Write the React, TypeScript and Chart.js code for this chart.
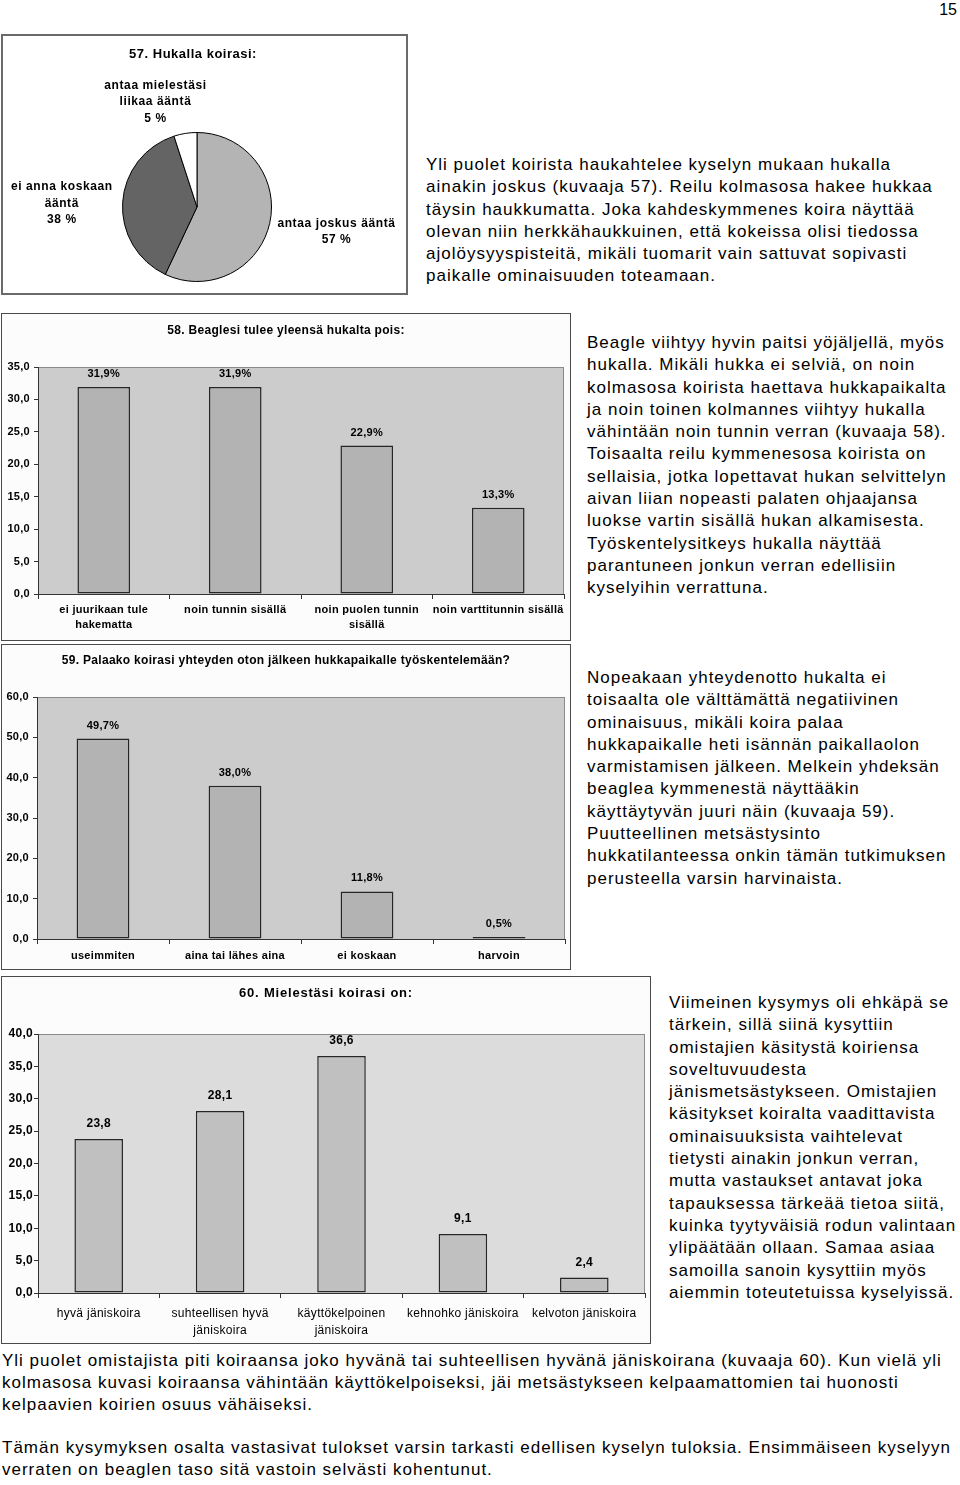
import React, { useEffect, useRef } from 'react';
import { Chart, registerables } from 'chart.js';
Chart.register(...registerables);

const FONT = "'Liberation Sans', Arial, Helvetica, sans-serif";

// ---- Chart 57 (pie) ----
const pieTitle = '57. Hukalla koirasi:';
const pieCategories = ['antaa joskus ääntä', 'ei anna koskaan ääntä', 'antaa mielestäsi liikaa ääntä'];
const pieLabelLines = [['antaa joskus ääntä', '57 %'], ['ei anna koskaan', 'ääntä', '38 %'], ['antaa mielestäsi', 'liikaa ääntä', '5 %']];
const pieValues = [57, 38, 5];
const pieColors = ['#b4b4b4', '#646464', '#ffffff'];

// ---- Chart 58 ----
const c58Title = '58. Beaglesi tulee yleensä hukalta pois:';
const c58Categories = [['ei juurikaan tule', 'hakematta'], 'noin tunnin sisällä', ['noin puolen tunnin', 'sisällä'], 'noin varttitunnin sisällä'];
const c58Values = [31.9, 31.9, 22.9, 13.3];
const c58Max = 35;
const c58Step = 5;

// ---- Chart 59 ----
const c59Title = '59. Palaako koirasi yhteyden oton jälkeen hukkapaikalle työskentelemään?';
const c59Categories = ['useimmiten', 'aina tai lähes aina', 'ei koskaan', 'harvoin'];
const c59Values = [49.7, 38.0, 11.8, 0.5];
const c59Max = 60;
const c59Step = 10;

// ---- Chart 60 ----
const c60Title = '60. Mielestäsi koirasi on:';
const c60Categories = ['hyvä jäniskoira', ['suhteellisen hyvä', 'jäniskoira'], ['käyttökelpoinen', 'jäniskoira'], 'kehnohko jäniskoira', 'kelvoton jäniskoira'];
const c60Values = [23.8, 28.1, 36.6, 9.1, 2.4];
const c60Max = 40;
const c60Step = 5;

// ---- Text ----
const text1 = [
  'Yli puolet koirista haukahtelee kyselyn mukaan hukalla',
  'ainakin joskus (kuvaaja 57). Reilu kolmasosa hakee hukkaa',
  'täysin haukkumatta. Joka kahdeskymmenes koira näyttää',
  'olevan niin herkkähaukkuinen, että kokeissa olisi tiedossa',
  'ajolöysyyspisteitä, mikäli tuomarit vain sattuvat sopivasti',
  'paikalle ominaisuuden toteamaan.',
];
const text2 = [
  'Beagle viihtyy hyvin paitsi yöjäljellä, myös',
  'hukalla. Mikäli hukka ei selviä, on noin',
  'kolmasosa koirista haettava hukkapaikalta',
  'ja noin toinen kolmannes viihtyy hukalla',
  'vähintään noin tunnin verran (kuvaaja 58).',
  'Toisaalta reilu kymmenesosa koirista on',
  'sellaisia, jotka lopettavat hukan selvittelyn',
  'aivan liian nopeasti palaten ohjaajansa',
  'luokse vartin sisällä hukan alkamisesta.',
  'Työskentelysitkeys hukalla näyttää',
  'parantuneen jonkun verran edellisiin',
  'kyselyihin verrattuna.',
];
const text3 = [
  'Nopeakaan yhteydenotto hukalta ei',
  'toisaalta ole välttämättä negatiivinen',
  'ominaisuus, mikäli koira palaa',
  'hukkapaikalle heti isännän paikallaolon',
  'varmistamisen jälkeen. Melkein yhdeksän',
  'beaglea kymmenestä näyttääkin',
  'käyttäytyvän juuri näin (kuvaaja 59).',
  'Puutteellinen metsästysinto',
  'hukkatilanteessa onkin tämän tutkimuksen',
  'perusteella varsin harvinaista.',
];
const text4 = [
  'Viimeinen kysymys oli ehkäpä se',
  'tärkein, sillä siinä kysyttiin',
  'omistajien käsitystä koiriensa',
  'soveltuvuudesta',
  'jänismetsästykseen. Omistajien',
  'käsitykset koiralta vaadittavista',
  'ominaisuuksista vaihtelevat',
  'tietysti ainakin jonkun verran,',
  'mutta vastaukset antavat joka',
  'tapauksessa tärkeää tietoa siitä,',
  'kuinka tyytyväisiä rodun valintaan',
  'ylipäätään ollaan. Samaa asiaa',
  'samoilla sanoin kysyttiin myös',
  'aiemmin toteutetuissa kyselyissä.',
];
const text5 = [
  'Yli puolet omistajista piti koiraansa joko hyvänä tai suhteellisen hyvänä jäniskoirana (kuvaaja 60). Kun vielä yli',
  'kolmasosa kuvasi koiraansa vähintään käyttökelpoiseksi, jäi metsästykseen kelpaamattomien tai huonosti',
  'kelpaavien koirien osuus vähäiseksi.',
];
const text6 = [
  'Tämän kysymyksen osalta vastasivat tulokset varsin tarkasti edellisen kyselyn tuloksia. Ensimmäiseen kyselyyn',
  'verraten on beaglen taso sitä vastoin selvästi kohentunut.',
];
const pageNumber = '15';

function fmt(v: number) {
  return v.toFixed(1).replace('.', ',');
}

type Box = { left: number; top: number; width: number; height: number; border: number; borderColor: string };

function PieBox({ box }: { box: Box }) {
  const ref = useRef<HTMLCanvasElement>(null);
  const cw = box.width - 2 * box.border;
  const ch = box.height - 2 * box.border;
  useEffect(() => {
    const canvas = ref.current!;
    const decor = {
      id: 'pieDecor',
      afterDatasetsDraw(chart: any) {
        const ctx = chart.ctx;
        ctx.save();
        ctx.fillStyle = '#000';
        ctx.textAlign = 'center';
        ctx.textBaseline = 'middle';
        ctx.letterSpacing = '0.5px';
        ctx.font = `bold 13px ${FONT}`;
        ctx.fillText(pieTitle, 190, 18);
        ctx.font = `bold 12px ${FONT}`;
        ctx.letterSpacing = '0.6px';
        const meta = chart.getDatasetMeta(0);
        const lh = 16.5;
        meta.data.forEach((arc: any, i: number) => {
          const p = arc.getProps(['x', 'y', 'startAngle', 'endAngle', 'outerRadius'], true);
          const mid = (p.startAngle + p.endAngle) / 2;
          const d = p.outerRadius + 12;
          const c = Math.cos(mid);
          const s = Math.sin(mid);
          const ax = p.x + c * d;
          const ay = p.y + s * d;
          const lines = pieLabelLines[i];
          const w = Math.max(...lines.map((l) => ctx.measureText(l).width));
          const h = lines.length * lh;
          let cx: number;
          let cy: number;
          if (c > 0.5) {
            cx = ax + w / 2 - 4;
            cy = ay + 6;
          } else if (c < -0.5) {
            cx = ax - w / 2 + 2;
            cy = ay + 2;
          } else {
            cx = ax + (c * w) / 2 - 20;
            cy = s < 0 ? ay - h / 2 + 5 : ay + h / 2;
          }
          lines.forEach((l, k) => ctx.fillText(l, cx, cy - h / 2 + lh * (k + 0.5)));
        });
        ctx.restore();
      },
    };
    const chart = new Chart(canvas, {
      type: 'pie',
      data: {
        labels: pieCategories,
        datasets: [{ data: pieValues, backgroundColor: pieColors, borderColor: '#000', borderWidth: 1 }],
      },
      options: {
        responsive: false,
        animation: false,
        layout: { padding: { left: 119, right: cw - 269, top: 96, bottom: ch - 246 } },
        plugins: { legend: { display: false }, tooltip: { enabled: false }, title: { display: false } },
      },
      plugins: [decor],
    } as any);
    return () => chart.destroy();
  }, []);
  return (
    <div
      style={{
        position: 'absolute',
        left: box.left,
        top: box.top,
        width: box.width,
        height: box.height,
        border: `${box.border}px solid ${box.borderColor}`,
        boxSizing: 'border-box',
        background: '#fff',
      }}
    >
      <canvas ref={ref} width={cw} height={ch} style={{ display: 'block', width: cw, height: ch }} />
    </div>
  );
}

type BarProps = {
  box: Box;
  title: string;
  titleY: number;
  titleSize: number;
  titleSpacing: number;
  categories: any[];
  values: number[];
  max: number;
  step: number;
  suffix: string;
  plotBg: string;
  barColor: string;
  yAxisWidth: number;
  xAxisHeight: number;
  padTop: number;
  padRight: number;
  tickSize: number;
  tickPad: number;
  xSize: number;
  xBold: boolean;
  xLineHeight: number;
  xPad: number;
  labelSize: number;
  labelGap: number;
};

function BarBox(p: BarProps) {
  const ref = useRef<HTMLCanvasElement>(null);
  const cw = p.box.width - 2 * p.box.border;
  const ch = p.box.height - 2 * p.box.border;
  useEffect(() => {
    const canvas = ref.current!;
    const decor = {
      id: 'barDecor',
      beforeDraw(chart: any) {
        const ctx = chart.ctx;
        const a = chart.chartArea;
        ctx.save();
        ctx.fillStyle = p.plotBg;
        ctx.fillRect(a.left, a.top, a.right - a.left, a.bottom - a.top);
        ctx.strokeStyle = '#8a8a8a';
        ctx.lineWidth = 1;
        ctx.strokeRect(a.left + 0.5, a.top + 0.5, a.right - a.left - 1, a.bottom - a.top);
        ctx.fillStyle = '#000';
        ctx.textAlign = 'center';
        ctx.textBaseline = 'middle';
        ctx.letterSpacing = `${p.titleSpacing}px`;
        ctx.font = `bold ${p.titleSize}px ${FONT}`;
        ctx.fillText(p.title, chart.width / 2, p.titleY);
        ctx.restore();
        ctx.letterSpacing = '0.3px';
      },
      afterDatasetsDraw(chart: any) {
        const ctx = chart.ctx;
        ctx.save();
        ctx.fillStyle = '#000';
        ctx.textAlign = 'center';
        ctx.textBaseline = 'middle';
        ctx.font = `bold ${p.labelSize}px ${FONT}`;
        chart.getDatasetMeta(0).data.forEach((el: any, i: number) => {
          ctx.fillText(fmt(p.values[i]) + p.suffix, el.x, el.y - p.labelGap);
        });
        ctx.restore();
      },
    };
    const chart = new Chart(canvas, {
      type: 'bar',
      data: {
        labels: p.categories,
        datasets: [
          {
            data: p.values,
            backgroundColor: p.barColor,
            borderColor: '#262626',
            borderWidth: 1.5,
            borderSkipped: false,
            categoryPercentage: 1,
            barPercentage: 0.4,
          },
        ],
      },
      options: {
        responsive: false,
        animation: false,
        layout: { padding: { left: 0, right: p.padRight, top: p.padTop, bottom: 0 } },
        plugins: { legend: { display: false }, tooltip: { enabled: false }, title: { display: false } },
        scales: {
          x: {
            grid: { display: true, drawOnChartArea: false, drawTicks: true, tickLength: 5, color: '#333', offset: true },
            border: { display: true, color: '#333', width: 1 },
            ticks: {
              color: '#000',
              font: { family: FONT, size: p.xSize, weight: p.xBold ? 'bold' : 'normal', lineHeight: p.xLineHeight },
              maxRotation: 0,
              minRotation: 0,
              autoSkip: false,
              padding: p.xPad,
            },
            afterFit: (s: any) => {
              s.height = p.xAxisHeight;
            },
          },
          y: {
            min: 0,
            max: p.max,
            grid: { display: true, drawOnChartArea: false, drawTicks: true, tickLength: 4, color: '#333' },
            border: { display: true, color: '#333', width: 1 },
            ticks: {
              stepSize: p.step,
              color: '#000',
              font: { family: FONT, size: p.tickSize, weight: 'bold' },
              padding: p.tickPad,
              callback: (v: any) => fmt(Number(v)),
            },
            afterFit: (s: any) => {
              s.width = p.yAxisWidth;
            },
          },
        },
      },
      plugins: [decor],
    } as any);
    return () => chart.destroy();
  }, []);
  return (
    <div
      style={{
        position: 'absolute',
        left: p.box.left,
        top: p.box.top,
        width: p.box.width,
        height: p.box.height,
        border: `${p.box.border}px solid ${p.box.borderColor}`,
        boxSizing: 'border-box',
        background: '#fcfcfc',
      }}
    >
      <canvas ref={ref} width={cw} height={ch} style={{ display: 'block', width: cw, height: ch }} />
    </div>
  );
}

function TextBlock({ left, top, lines, size = 17, lh = 22.3 }: { left: number; top: number; lines: string[]; size?: number; lh?: number }) {
  return (
    <div
      style={{
        position: 'absolute',
        left,
        top,
        fontSize: size,
        lineHeight: `${lh}px`,
        letterSpacing: '1px',
        color: '#000',
        whiteSpace: 'nowrap',
      }}
    >
      {lines.map((l, i) => (
        <div key={i}>{l}</div>
      ))}
    </div>
  );
}

export default function App() {
  return (
    <div
      style={{
        position: 'absolute',
        left: 0,
        top: 0,
        width: 960,
        height: 1485,
        background: '#fff',
        fontFamily: FONT,
        overflow: 'hidden',
      }}
    >
      <div style={{ position: 'absolute', right: 3, top: -1, fontSize: 16, lineHeight: '22px' }}>{pageNumber}</div>
      <PieBox box={{ left: 1, top: 34, width: 407, height: 261, border: 2, borderColor: '#6a6a6a' }} />
      <TextBlock left={426} top={154} lines={text1} />
      <BarBox
        box={{ left: 1, top: 313, width: 570, height: 328, border: 1, borderColor: '#4a4a4a' }}
        title={c58Title}
        titleY={17}
        titleSize={12}
        titleSpacing={0.3}
        categories={c58Categories}
        values={c58Values}
        max={c58Max}
        step={c58Step}
        suffix="%"
        plotBg="#cccccc"
        barColor="#b3b3b3"
        yAxisWidth={36}
        xAxisHeight={46}
        padTop={53}
        padRight={6}
        tickSize={11}
        tickPad={4}
        xSize={11}
        xBold={true}
        xLineHeight={1.35}
        xPad={4}
        labelSize={11}
        labelGap={13}
      />
      <TextBlock left={587} top={332} lines={text2} />
      <BarBox
        box={{ left: 1, top: 644, width: 570, height: 326, border: 1, borderColor: '#4a4a4a' }}
        title={c59Title}
        titleY={16}
        titleSize={12}
        titleSpacing={0.3}
        categories={c59Categories}
        values={c59Values}
        max={c59Max}
        step={c59Step}
        suffix="%"
        plotBg="#cccccc"
        barColor="#b3b3b3"
        yAxisWidth={35}
        xAxisHeight={30}
        padTop={52}
        padRight={5}
        tickSize={11}
        tickPad={4}
        xSize={11}
        xBold={true}
        xLineHeight={1.35}
        xPad={5}
        labelSize={11}
        labelGap={13}
      />
      <TextBlock left={587} top={667} lines={text3} />
      <BarBox
        box={{ left: 1, top: 976, width: 650, height: 368, border: 1, borderColor: '#4a4a4a' }}
        title={c60Title}
        titleY={16}
        titleSize={13}
        titleSpacing={0.8}
        categories={c60Categories}
        values={c60Values}
        max={c60Max}
        step={c60Step}
        suffix=""
        plotBg="#dcdcdc"
        barColor="#c0c0c0"
        yAxisWidth={36}
        xAxisHeight={50}
        padTop={57}
        padRight={5}
        tickSize={12}
        tickPad={1}
        xSize={12}
        xBold={false}
        xLineHeight={1.4}
        xPad={7}
        labelSize={12}
        labelGap={15}
      />
      <TextBlock left={669} top={992} lines={text4} />
      <TextBlock left={2} top={1350} lines={text5} lh={22} />
      <TextBlock left={2} top={1437} lines={text6} lh={22} />
    </div>
  );
}
